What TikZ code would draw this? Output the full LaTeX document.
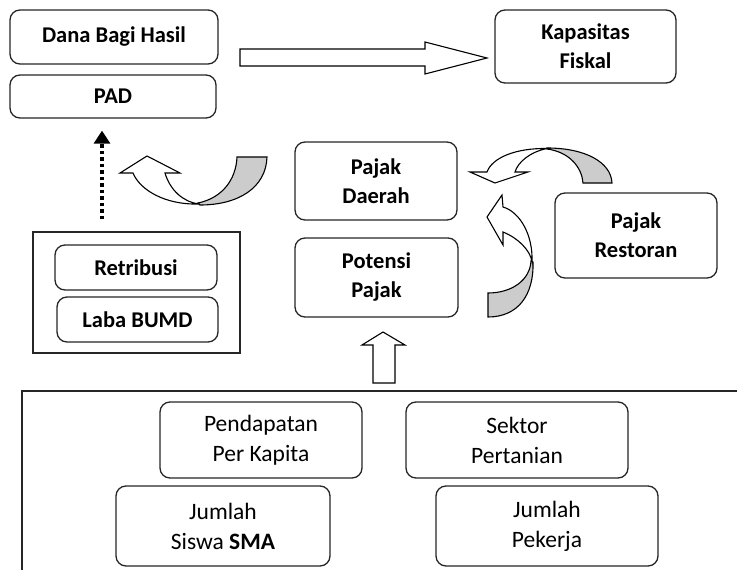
\documentclass[tikz,border=0pt]{standalone}
\usepackage{fontspec}
\setmainfont{Carlito}
\usetikzlibrary{arrows.meta}
\begin{document}
\begin{tikzpicture}[x=1pt,y=-1pt,
  box/.style={draw=black!85, line width=1.3pt, rounded corners=10pt, fill=white,
    inner sep=0pt, align=center, font=\fontsize{22.5}{29}\selectfont\bfseries},
  boxr/.style={box, font=\fontsize{23.5}{30}\selectfont},
  grpbox/.style={draw=black!85, line width=1.3pt, inner sep=0pt},
  frameline/.style={draw=black!85, line width=1.3pt},
  fatarrow/.style={draw=black, line width=1.1pt, fill=white, line join=miter},
  backpart/.style={draw=black, line width=1.1pt, fill=black!20, line join=miter},
  dotarrow/.style={draw=black, line width=4.5pt, dash pattern=on 3.5pt off 3pt,
    -{Triangle[length=13pt,width=16pt]}}
]
\useasboundingbox (0,0) rectangle (737,570);

% top-left boxes
\node[box, minimum width=208pt, minimum height=54pt] (dbh) at (114,37) {Dana Bagi Hasil};
\node[box, minimum width=206pt, minimum height=43pt] (pad) at (113,96.5) {PAD};
\node[box, minimum width=181pt, minimum height=73pt] (kap) at (585.5,46.5) {Kapasitas\\Fiskal};

% middle
\node[box, minimum width=162pt, minimum height=78pt] (pd) at (376,181) {Pajak\\Daerah};
\node[box, minimum width=163pt, minimum height=79pt] (pp) at (376.5,277.5) {Potensi\\Pajak};
\node[box, minimum width=162pt, minimum height=85pt] (pr) at (636,235.5) {Pajak\\Restoran};

% group
\node[grpbox, minimum width=207pt, minimum height=121pt] (grp) at (136.5,292.5) {};
\node[box, minimum width=162pt, minimum height=45pt] (ret) at (136,267.5) {Retribusi};
\node[box, minimum width=161pt, minimum height=45pt] (bumd) at (137.5,319.5) {Laba BUMD};

% bottom frame
\draw[frameline] (22,572) -- (22,391) -- (739,391);
\node[boxr, minimum width=202pt, minimum height=76pt] (pend) at (261,440) {Pendapatan\\Per Kapita};
\node[boxr, minimum width=222pt, minimum height=76pt] (sek) at (517,440) {Sektor\\Pertanian};
\node[boxr, minimum width=214pt, minimum height=80pt] (jss) at (223,526) {Jumlah\\Siswa \textbf{SMA}};
\node[boxr, minimum width=222pt, minimum height=80pt] (jpk) at (547,526) {Jumlah\\Pekerja};

% big right arrow (Dana Bagi Hasil -> Kapasitas Fiskal)
\path[fatarrow] (240,49) -- (425,49) -- (425,42) -- (487,58) -- (425,74) -- (425,66) -- (240,66) -- cycle;

% up hollow arrow (factors -> Potensi Pajak)
\path[fatarrow] (383,332) -- (405,345) -- (395,345) -- (395,383) -- (373,383) -- (373,345) -- (362,345) -- cycle;

% dotted arrow (group -> PAD)
\draw[dotarrow] ([xshift=-34.5pt,yshift=12pt]grp.north) -- ([xshift=-11pt,yshift=-12pt]pad.south);

% curved arrow towards PAD
\path[backpart] (198,203) .. controls (222,198) and (236,180) .. (237,157) -- (267,157)
  .. controls (266,188) and (238,205) .. (200,205) -- cycle;
\path[fatarrow] (147,156) -- (180,173) -- (165,173) .. controls (170,190) and (183,202) .. (199,204)
  .. controls (165,205) and (140,190) .. (133,173) -- (120,173) -- cycle;

% curved arrow from Pajak Restoran to Pajak Daerah
\path[backpart] (547,149) .. controls (570,152) and (582,168) .. (583,183) -- (612,183)
  .. controls (611,162) and (585,148) .. (547,148) -- cycle;
\path[fatarrow] (495,183) -- (470,172) -- (487,172) .. controls (492,158) and (515,148) .. (547,148.5)
  .. controls (530,152) and (518,162) .. (515,172) -- (528,172) -- cycle;

% curved arrow from Potensi Pajak to Pajak Daerah
\path[backpart] (531,261) .. controls (530,280) and (512,293) .. (488,293) -- (488,317)
  .. controls (518,317) and (534,295) .. (533,262) -- cycle;
\path[fatarrow] (502,195) -- (487,217) -- (503,245) -- (503,232) .. controls (518,238) and (530,250) .. (532,261.5)
  .. controls (533,235) and (520,212) .. (503,207) -- cycle;
\end{tikzpicture}
\end{document}
